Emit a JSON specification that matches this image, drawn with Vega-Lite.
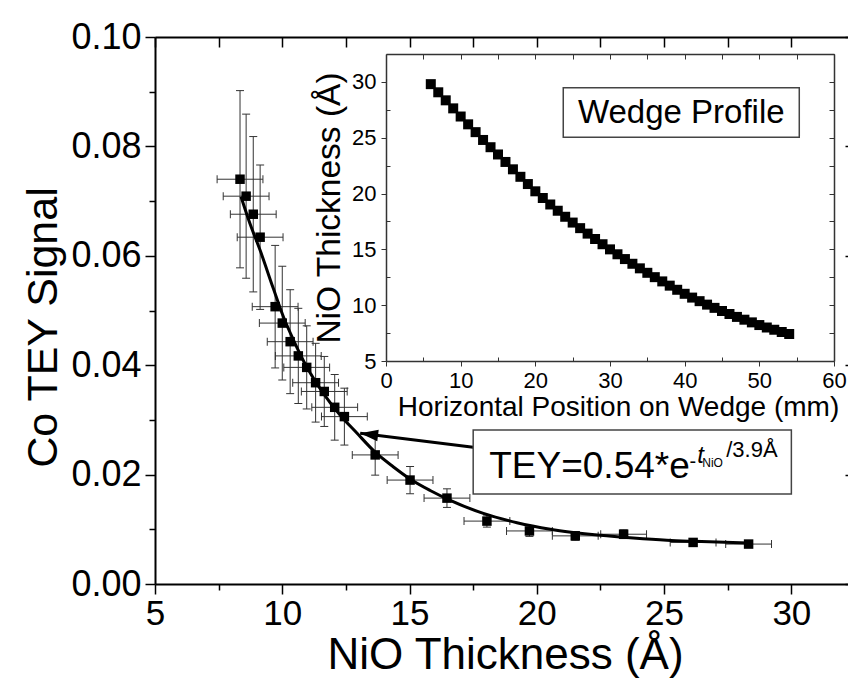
{
  "$schema": "https://vega.github.io/schema/vega-lite/v6.json",
  "width": 693,
  "height": 547,
  "autosize": {"type": "none"},
  "padding": {"left": 155, "top": 37, "right": 0, "bottom": 97},
  "background": "white",
  "config": {
    "view": {"stroke": null},
    "font": "Liberation Sans",
    "axis": {
      "grid": false,
      "labelFont": "Liberation Sans",
      "titleFont": "Liberation Sans",
      "labelColor": "#000",
      "titleColor": "#000",
      "titleFontWeight": "normal",
      "domainColor": "#000",
      "tickColor": "#000",
      "labelFlush": false,
      "labelOverlap": false,
      "labelBound": false
    }
  },
  "datasets": {
    "signal": [
      {"t": 8.34, "s": 0.0740, "tlo": 7.44, "thi": 9.24, "slo": 0.0578, "shi": 0.0902},
      {"t": 8.58, "s": 0.0709, "tlo": 7.68, "thi": 9.48, "slo": 0.0559, "shi": 0.0859},
      {"t": 8.86, "s": 0.0676, "tlo": 7.96, "thi": 9.76, "slo": 0.0534, "shi": 0.0818},
      {"t": 9.13, "s": 0.0634, "tlo": 8.23, "thi": 10.03, "slo": 0.0502, "shi": 0.0766},
      {"t": 9.72, "s": 0.0507, "tlo": 8.82, "thi": 10.62, "slo": 0.0395, "shi": 0.0619},
      {"t": 10.00, "s": 0.0477, "tlo": 9.10, "thi": 10.90, "slo": 0.0373, "shi": 0.0581},
      {"t": 10.31, "s": 0.0443, "tlo": 9.41, "thi": 11.21, "slo": 0.0348, "shi": 0.0538},
      {"t": 10.63, "s": 0.0417, "tlo": 9.73, "thi": 11.53, "slo": 0.0330, "shi": 0.0504},
      {"t": 10.96, "s": 0.0396, "tlo": 10.06, "thi": 11.86, "slo": 0.0320, "shi": 0.0472},
      {"t": 11.31, "s": 0.0368, "tlo": 10.41, "thi": 12.21, "slo": 0.0296, "shi": 0.0440},
      {"t": 11.65, "s": 0.0352, "tlo": 10.75, "thi": 12.55, "slo": 0.0288, "shi": 0.0416},
      {"t": 12.06, "s": 0.0323, "tlo": 11.16, "thi": 12.96, "slo": 0.0263, "shi": 0.0383},
      {"t": 12.44, "s": 0.0306, "tlo": 11.54, "thi": 13.34, "slo": 0.0254, "shi": 0.0358},
      {"t": 13.65, "s": 0.0236, "tlo": 12.75, "thi": 14.55, "slo": 0.0199, "shi": 0.0273},
      {"t": 15.02, "s": 0.0190, "tlo": 14.12, "thi": 15.92, "slo": 0.0165, "shi": 0.0215},
      {"t": 16.47, "s": 0.0157, "tlo": 15.57, "thi": 17.37, "slo": 0.0140, "shi": 0.0174},
      {"t": 18.04, "s": 0.0115, "tlo": 17.14, "thi": 18.94, "slo": 0.0104, "shi": 0.0126},
      {"t": 19.71, "s": 0.0097, "tlo": 18.81, "thi": 20.61, "slo": 0.0087, "shi": 0.0107},
      {"t": 21.51, "s": 0.0088, "tlo": 20.61, "thi": 22.41, "slo": 0.0080, "shi": 0.0096},
      {"t": 23.41, "s": 0.0091, "tlo": 22.51, "thi": 24.31, "slo": 0.0083, "shi": 0.0099},
      {"t": 26.14, "s": 0.0076, "tlo": 25.24, "thi": 27.04, "slo": 0.0070, "shi": 0.0082},
      {"t": 28.32, "s": 0.0073, "tlo": 27.42, "thi": 29.22, "slo": 0.0068, "shi": 0.0078}
    ],
    "fit": [
      {"t": 8.38, "s": 0.0708},
      {"t": 8.73, "s": 0.0659},
      {"t": 9.13, "s": 0.0610},
      {"t": 9.65, "s": 0.0540},
      {"t": 10.04, "s": 0.0489},
      {"t": 10.44, "s": 0.0446},
      {"t": 10.96, "s": 0.0397},
      {"t": 11.62, "s": 0.0348},
      {"t": 12.27, "s": 0.0309},
      {"t": 12.93, "s": 0.0276},
      {"t": 13.65, "s": 0.0241},
      {"t": 14.37, "s": 0.0214},
      {"t": 15.02, "s": 0.0192},
      {"t": 15.81, "s": 0.0171},
      {"t": 16.60, "s": 0.0153},
      {"t": 17.90, "s": 0.0129},
      {"t": 19.22, "s": 0.0112},
      {"t": 20.53, "s": 0.0100},
      {"t": 22.49, "s": 0.0089},
      {"t": 23.79, "s": 0.0084},
      {"t": 25.11, "s": 0.0080},
      {"t": 26.16, "s": 0.0078},
      {"t": 28.31, "s": 0.0075}
    ],
    "profile": [
      {"pos": 6, "thick": 29.8}, {"pos": 7, "thick": 29.07}, {"pos": 8, "thick": 28.35},
      {"pos": 9, "thick": 27.63}, {"pos": 10, "thick": 26.9}, {"pos": 11, "thick": 26.2},
      {"pos": 12, "thick": 25.5}, {"pos": 13, "thick": 24.8}, {"pos": 14, "thick": 24.15},
      {"pos": 15, "thick": 23.5}, {"pos": 16, "thick": 22.83}, {"pos": 17, "thick": 22.17},
      {"pos": 18, "thick": 21.5}, {"pos": 19, "thick": 20.85}, {"pos": 20, "thick": 20.2},
      {"pos": 21, "thick": 19.6}, {"pos": 22, "thick": 19.02}, {"pos": 23, "thick": 18.46},
      {"pos": 24, "thick": 17.92}, {"pos": 25, "thick": 17.4}, {"pos": 26, "thick": 16.9},
      {"pos": 27, "thick": 16.41}, {"pos": 28, "thick": 15.93}, {"pos": 29, "thick": 15.46},
      {"pos": 30, "thick": 15.0}, {"pos": 31, "thick": 14.56}, {"pos": 32, "thick": 14.13},
      {"pos": 33, "thick": 13.71}, {"pos": 34, "thick": 13.3}, {"pos": 35, "thick": 12.9},
      {"pos": 36, "thick": 12.51}, {"pos": 37, "thick": 12.13}, {"pos": 38, "thick": 11.75},
      {"pos": 39, "thick": 11.38}, {"pos": 40, "thick": 11.02}, {"pos": 41, "thick": 10.68},
      {"pos": 42, "thick": 10.36}, {"pos": 43, "thick": 10.05}, {"pos": 44, "thick": 9.76},
      {"pos": 45, "thick": 9.48}, {"pos": 46, "thick": 9.21}, {"pos": 47, "thick": 8.95},
      {"pos": 48, "thick": 8.7}, {"pos": 49, "thick": 8.46}, {"pos": 50, "thick": 8.22},
      {"pos": 51, "thick": 8.0}, {"pos": 52, "thick": 7.8}, {"pos": 53, "thick": 7.6},
      {"pos": 54, "thick": 7.42}
    ],
    "arrow": [{"t": 17.5, "s": 0.0250, "t2": 13.06, "s2": 0.02755}],
    "eqbox": [{"t": 17.5, "s": 0.02815, "t2": 30.0, "s2": 0.01645}],
    "wedgebox": [{"pos": 23.74, "thick": 29.48, "pos2": 55.35, "thick2": 25.04}]
  },
  "resolve": {
    "scale": {"x": "independent", "y": "independent"},
    "axis": {"x": "independent", "y": "independent"}
  },
  "layer": [
    {
      "data": {"name": "signal"},
      "mark": {"type": "rule", "color": "#333", "strokeWidth": 1},
      "encoding": {
        "x": {"field": "tlo", "type": "quantitative",
              "scale": {"domain": [5, 32.5], "range": [0, 700], "nice": false, "zero": false},
              "axis": {"orient": "top", "values": [5, 7.5, 10, 12.5, 15, 17.5, 20, 22.5, 25, 27.5, 30, 32.5],
                       "labels": false, "tickSize": -10, "tickWidth": 1.5, "domainWidth": 2, "title": null}},
        "x2": {"field": "thi"},
        "y": {"field": "s", "type": "quantitative",
              "scale": {"domain": [0, 0.1], "range": [547, 0], "nice": false, "zero": false},
              "axis": {"orient": "right", "offset": 7, "values": [0, 0.02, 0.04, 0.06, 0.08, 0.1],
                       "labels": false, "tickSize": -10, "tickWidth": 1.5, "domainWidth": 2, "title": null}}
      }
    },
    {
      "data": {"name": "signal"},
      "mark": {"type": "rule", "color": "#333", "strokeWidth": 1},
      "encoding": {
        "x": {"field": "t", "type": "quantitative",
              "scale": {"domain": [5, 32.5], "range": [0, 700], "nice": false, "zero": false}, "axis": null},
        "y": {"field": "slo", "type": "quantitative",
              "scale": {"domain": [0, 0.1], "range": [547, 0], "nice": false, "zero": false}, "axis": null},
        "y2": {"field": "shi"}
      }
    },
    {
      "data": {"name": "signal"},
      "mark": {"type": "tick", "orient": "vertical", "color": "#333", "size": 8, "thickness": 1, "opacity": 1},
      "encoding": {
        "x": {"field": "tlo", "type": "quantitative",
              "scale": {"domain": [5, 32.5], "range": [0, 700], "nice": false, "zero": false}, "axis": null},
        "y": {"field": "s", "type": "quantitative",
              "scale": {"domain": [0, 0.1], "range": [547, 0], "nice": false, "zero": false}, "axis": null}
      }
    },
    {
      "data": {"name": "signal"},
      "mark": {"type": "tick", "orient": "vertical", "color": "#333", "size": 8, "thickness": 1, "opacity": 1},
      "encoding": {
        "x": {"field": "thi", "type": "quantitative",
              "scale": {"domain": [5, 32.5], "range": [0, 700], "nice": false, "zero": false}, "axis": null},
        "y": {"field": "s", "type": "quantitative",
              "scale": {"domain": [0, 0.1], "range": [547, 0], "nice": false, "zero": false}, "axis": null}
      }
    },
    {
      "data": {"name": "signal"},
      "mark": {"type": "tick", "orient": "horizontal", "color": "#333", "size": 8, "thickness": 1, "opacity": 1},
      "encoding": {
        "x": {"field": "t", "type": "quantitative",
              "scale": {"domain": [5, 32.5], "range": [0, 700], "nice": false, "zero": false}, "axis": null},
        "y": {"field": "slo", "type": "quantitative",
              "scale": {"domain": [0, 0.1], "range": [547, 0], "nice": false, "zero": false}, "axis": null}
      }
    },
    {
      "data": {"name": "signal"},
      "mark": {"type": "tick", "orient": "horizontal", "color": "#333", "size": 8, "thickness": 1, "opacity": 1},
      "encoding": {
        "x": {"field": "t", "type": "quantitative",
              "scale": {"domain": [5, 32.5], "range": [0, 700], "nice": false, "zero": false}, "axis": null},
        "y": {"field": "shi", "type": "quantitative",
              "scale": {"domain": [0, 0.1], "range": [547, 0], "nice": false, "zero": false}, "axis": null}
      }
    },
    {
      "data": {"name": "fit"},
      "mark": {"type": "line", "color": "#000", "strokeWidth": 3, "interpolate": "monotone"},
      "encoding": {
        "x": {"field": "t", "type": "quantitative",
              "scale": {"domain": [5, 32.5], "range": [0, 700], "nice": false, "zero": false},
              "axis": {"orient": "bottom", "values": [7.5, 12.5, 17.5, 22.5, 27.5], "labels": false,
                       "domain": false, "tickSize": 6, "tickWidth": 1.5, "title": null}},
        "y": {"field": "s", "type": "quantitative",
              "scale": {"domain": [0, 0.1], "range": [547, 0], "nice": false, "zero": false},
              "axis": {"orient": "left", "values": [0.01, 0.03, 0.05, 0.07, 0.09], "labels": false,
                       "domain": false, "tickSize": 6, "tickWidth": 1.5, "title": null}}
      }
    },
    {
      "data": {"name": "signal"},
      "mark": {"type": "square", "size": 90, "color": "#000", "opacity": 1},
      "encoding": {
        "x": {"field": "t", "type": "quantitative",
              "scale": {"domain": [5, 32.5], "range": [0, 700], "nice": false, "zero": false},
              "axis": {"orient": "bottom", "values": [5, 10, 15, 20, 25, 30], "format": "d",
                       "tickSize": 10, "tickWidth": 1.5, "domainWidth": 2,
                       "labelFontSize": 35, "labelPadding": 2,
                       "title": "NiO Thickness (Å)", "titleFontSize": 44, "titlePadding": 2}},
        "y": {"field": "s", "type": "quantitative",
              "scale": {"domain": [0, 0.1], "range": [547, 0], "nice": false, "zero": false},
              "axis": {"orient": "left", "values": [0, 0.02, 0.04, 0.06, 0.08, 0.1], "format": ".2f",
                       "tickSize": 10, "tickWidth": 1.5, "domainWidth": 2,
                       "labelFontSize": 36, "labelPadding": 4,
                       "title": "Co TEY Signal", "titleFontSize": 43, "titlePadding": 5, "titleY": 290}}
      }
    },
    {
      "data": {"name": "arrow"},
      "mark": {"type": "rule", "color": "#000", "strokeWidth": 3},
      "encoding": {
        "x": {"field": "t", "type": "quantitative",
              "scale": {"domain": [5, 32.5], "range": [0, 700], "nice": false, "zero": false}, "axis": null},
        "y": {"field": "s", "type": "quantitative",
              "scale": {"domain": [0, 0.1], "range": [547, 0], "nice": false, "zero": false}, "axis": null},
        "x2": {"field": "t2"},
        "y2": {"field": "s2"}
      }
    },
    {
      "data": {"name": "arrow"},
      "mark": {"type": "point", "shape": "M0,0L2,-0.65L2,0.65Z", "size": 324, "angle": 7,
               "filled": true, "color": "#000", "opacity": 1},
      "encoding": {
        "x": {"field": "t2", "type": "quantitative",
              "scale": {"domain": [5, 32.5], "range": [0, 700], "nice": false, "zero": false}, "axis": null},
        "y": {"field": "s2", "type": "quantitative",
              "scale": {"domain": [0, 0.1], "range": [547, 0], "nice": false, "zero": false}, "axis": null}
      }
    },
    {
      "data": {"name": "eqbox"},
      "mark": {"type": "rect", "fill": "white", "stroke": "#444", "strokeWidth": 1.5},
      "encoding": {
        "x": {"field": "t", "type": "quantitative",
              "scale": {"domain": [5, 32.5], "range": [0, 700], "nice": false, "zero": false}, "axis": null},
        "x2": {"field": "t2"},
        "y": {"field": "s", "type": "quantitative",
              "scale": {"domain": [0, 0.1], "range": [547, 0], "nice": false, "zero": false}, "axis": null},
        "y2": {"field": "s2"}
      }
    },
    {
      "data": {"values": [{"t": 18.13, "s": 0.01938, "label": "TEY=0.54*e"}]},
      "mark": {"type": "text", "align": "left", "baseline": "alphabetic", "fontSize": 37, "color": "#000"},
      "encoding": {
        "x": {"field": "t", "type": "quantitative",
              "scale": {"domain": [5, 32.5], "range": [0, 700], "nice": false, "zero": false}, "axis": null},
        "y": {"field": "s", "type": "quantitative",
              "scale": {"domain": [0, 0.1], "range": [547, 0], "nice": false, "zero": false}, "axis": null},
        "text": {"field": "label"}
      }
    },
    {
      "data": {"values": [{"t": 26.0, "s": 0.02121, "label": "-"}]},
      "mark": {"type": "text", "align": "left", "baseline": "alphabetic", "fontSize": 20, "color": "#000"},
      "encoding": {
        "x": {"field": "t", "type": "quantitative",
              "scale": {"domain": [5, 32.5], "range": [0, 700], "nice": false, "zero": false}, "axis": null},
        "y": {"field": "s", "type": "quantitative",
              "scale": {"domain": [0, 0.1], "range": [547, 0], "nice": false, "zero": false}, "axis": null},
        "text": {"field": "label"}
      }
    },
    {
      "data": {"values": [{"t": 26.3, "s": 0.02212, "label": "t"}]},
      "mark": {"type": "text", "align": "left", "baseline": "alphabetic", "fontSize": 24, "fontStyle": "italic", "color": "#000"},
      "encoding": {
        "x": {"field": "t", "type": "quantitative",
              "scale": {"domain": [5, 32.5], "range": [0, 700], "nice": false, "zero": false}, "axis": null},
        "y": {"field": "s", "type": "quantitative",
              "scale": {"domain": [0, 0.1], "range": [547, 0], "nice": false, "zero": false}, "axis": null},
        "text": {"field": "label"}
      }
    },
    {
      "data": {"values": [{"t": 26.5, "s": 0.02139, "label": "NiO"}]},
      "mark": {"type": "text", "align": "left", "baseline": "alphabetic", "fontSize": 12, "color": "#000"},
      "encoding": {
        "x": {"field": "t", "type": "quantitative",
              "scale": {"domain": [5, 32.5], "range": [0, 700], "nice": false, "zero": false}, "axis": null},
        "y": {"field": "s", "type": "quantitative",
              "scale": {"domain": [0, 0.1], "range": [547, 0], "nice": false, "zero": false}, "axis": null},
        "text": {"field": "label"}
      }
    },
    {
      "data": {"values": [{"t": 27.44, "s": 0.02316, "label": "/3.9Å"}]},
      "mark": {"type": "text", "align": "left", "baseline": "alphabetic", "fontSize": 22, "color": "#000"},
      "encoding": {
        "x": {"field": "t", "type": "quantitative",
              "scale": {"domain": [5, 32.5], "range": [0, 700], "nice": false, "zero": false}, "axis": null},
        "y": {"field": "s", "type": "quantitative",
              "scale": {"domain": [0, 0.1], "range": [547, 0], "nice": false, "zero": false}, "axis": null},
        "text": {"field": "label"}
      }
    },
    {
      "data": {"name": "profile"},
      "mark": {"type": "square", "size": 100, "color": "#000", "opacity": 1},
      "encoding": {
        "x": {"field": "pos", "type": "quantitative",
              "scale": {"domain": [0, 60], "range": [231, 679], "nice": false, "zero": false},
              "axis": {"orient": "bottom", "offset": -223, "values": [0, 10, 20, 30, 40, 50, 60], "format": "d",
                       "tickSize": 5, "tickWidth": 1, "domainWidth": 1.5, "domainColor": "#333", "tickColor": "#333",
                       "labelFontSize": 22, "labelPadding": 4,
                       "title": "Horizontal Position on Wedge (mm)", "titleFontSize": 28, "titlePadding": 2,
                       "titleX": 463}},
        "y": {"field": "thick", "type": "quantitative",
              "scale": {"domain": [5, 32.5], "range": [324, 17], "nice": false, "zero": false},
              "axis": {"orient": "left", "offset": -231, "values": [5, 10, 15, 20, 25, 30], "format": "d",
                       "tickSize": 5, "tickWidth": 1, "domainWidth": 1.5, "domainColor": "#333", "tickColor": "#333",
                       "labelFontSize": 22, "labelPadding": 5,
                       "title": "NiO Thickness (Å)", "titleFontSize": 33.5, "titlePadding": 5}}
      }
    },
    {
      "data": {"name": "wedgebox"},
      "mark": {"type": "rect", "fill": "white", "stroke": "#444", "strokeWidth": 1.5},
      "encoding": {
        "x": {"field": "pos", "type": "quantitative",
              "scale": {"domain": [0, 60], "range": [231, 679], "nice": false, "zero": false},
              "axis": {"orient": "bottom", "offset": -223, "values": [5, 15, 25, 35, 45, 55], "labels": false,
                       "domain": false, "tickSize": -4, "tickWidth": 1, "tickColor": "#333", "title": null}},
        "x2": {"field": "pos2"},
        "y": {"field": "thick", "type": "quantitative",
              "scale": {"domain": [5, 32.5], "range": [324, 17], "nice": false, "zero": false},
              "axis": {"orient": "left", "offset": -231, "values": [7.5, 12.5, 17.5, 22.5, 27.5], "labels": false,
                       "domain": false, "tickSize": -4, "tickWidth": 1, "tickColor": "#333", "title": null}},
        "y2": {"field": "thick2"}
      }
    },
    {
      "data": {"values": [{"pos": 25.7, "thick": 26.29, "label": "Wedge Profile"}]},
      "mark": {"type": "text", "align": "left", "baseline": "alphabetic", "fontSize": 33, "color": "#000"},
      "encoding": {
        "x": {"field": "pos", "type": "quantitative",
              "scale": {"domain": [0, 60], "range": [231, 679], "nice": false, "zero": false},
              "axis": {"orient": "top", "offset": -17, "values": [0, 5, 10, 15, 20, 25, 30, 35, 40, 45, 50, 55, 60],
                       "labels": false, "tickSize": -5, "tickWidth": 1, "domainWidth": 1.5,
                       "domainColor": "#333", "tickColor": "#333", "title": null}},
        "y": {"field": "thick", "type": "quantitative",
              "scale": {"domain": [5, 32.5], "range": [324, 17], "nice": false, "zero": false},
              "axis": {"orient": "right", "offset": -14, "values": [5, 7.5, 10, 12.5, 15, 17.5, 20, 22.5, 25, 27.5, 30, 32.5],
                       "labels": false, "tickSize": -5, "tickWidth": 1, "domainWidth": 1.5,
                       "domainColor": "#333", "tickColor": "#333", "title": null}},
        "text": {"field": "label"}
      }
    }
  ]
}
